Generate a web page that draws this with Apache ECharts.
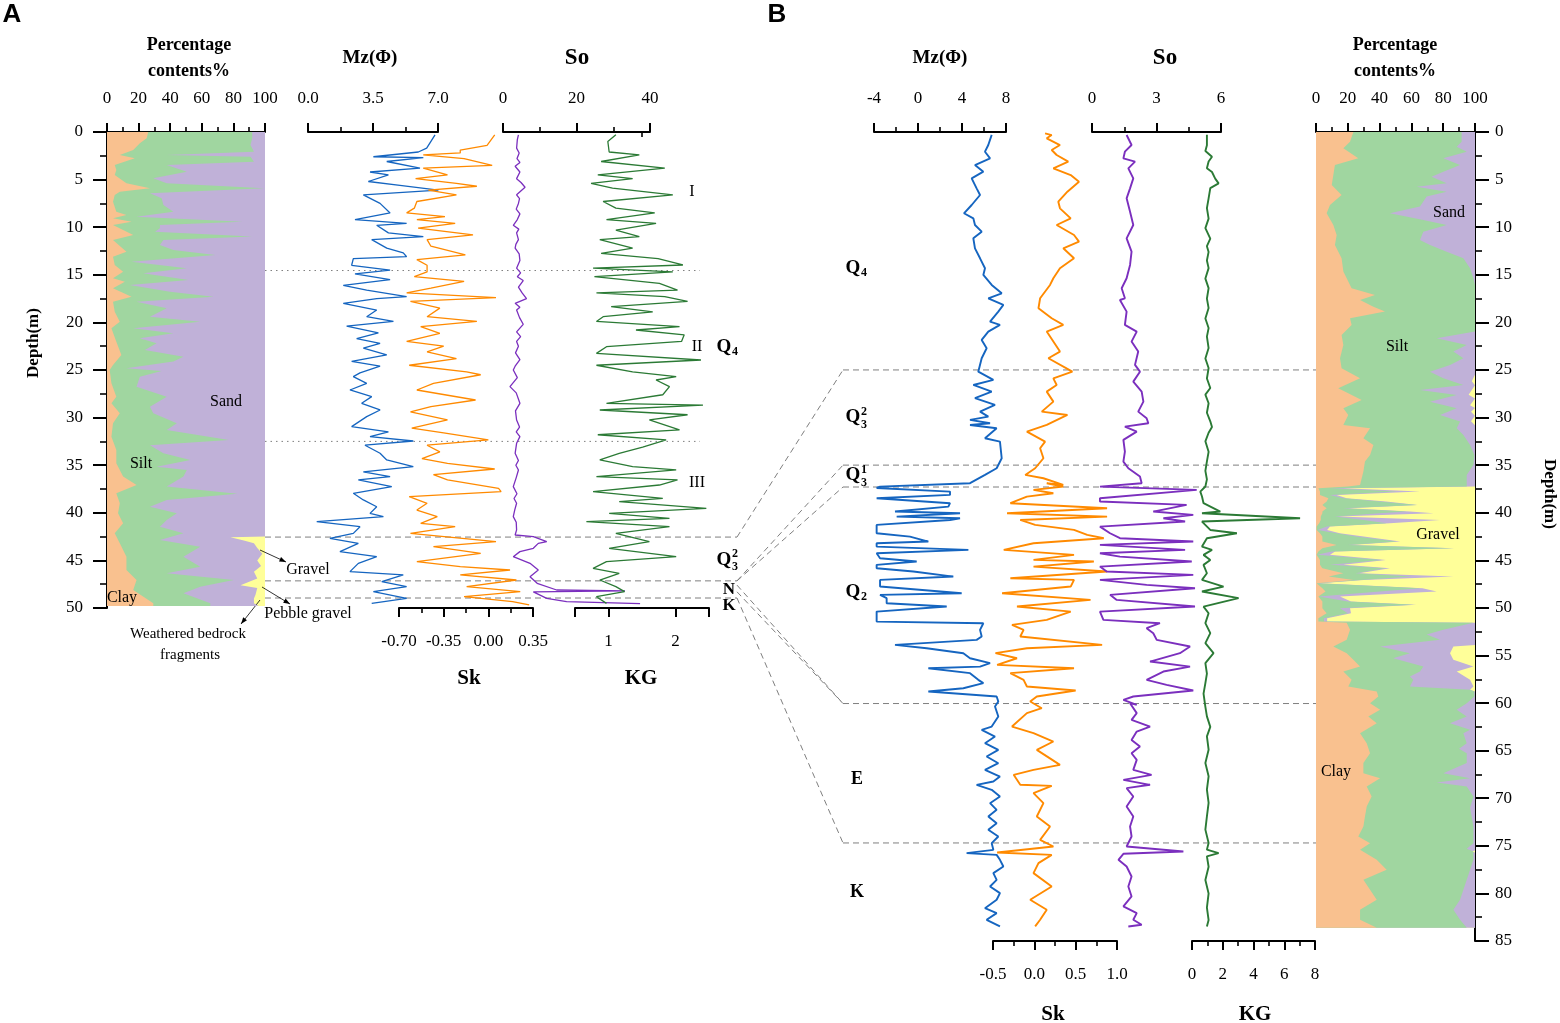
<!DOCTYPE html>
<html><head><meta charset="utf-8">
<script src="https://cdn.jsdelivr.net/npm/echarts@6/dist/echarts.min.js"></script>
<style>html,body{margin:0;padding:0;background:#fff}#c{width:1560px;height:1023px}</style>
</head><body><div id="c"></div>
<script>
// ===== DATA (value, depth m) =====
// Panel A curves
const mzA = [[6.84,0.3],[6.39,1.7],[5.94,2.1],[3.52,2.6],[6.21,2.7],[4.24,3.1],[6.03,3.8],[3.34,4.2],[4.33,4.5],[3.25,5.2],[4.95,5.6],[7.02,6.1],[2.98,6.6],[3.88,7.5],[4.42,8.5],[2.53,9.2],[5.31,9.6],[3.7,9.8],[4.33,10.6],[6.21,11.0],[3.43,11.3],[4.24,12.2],[5.13,12.7],[5.31,13.1],[2.44,13.3],[2.35,14.0],[4.42,14.5],[2.53,14.9],[4.42,15.5],[1.9,16.1],[3.16,16.6],[5.31,17.3],[3.7,17.5],[1.9,18.0],[3.7,18.7],[3.16,19.4],[4.6,19.9],[2.08,20.4],[3.79,21.1],[2.62,21.7],[3.88,22.2],[2.98,22.7],[4.24,23.4],[2.35,24.1],[3.88,24.6],[2.8,25.3],[2.44,25.7],[3.16,26.4],[2.26,27.1],[3.43,27.8],[2.89,28.5],[3.88,29.2],[3.16,29.9],[2.35,30.95],[4.33,31.5],[3.34,32.0],[5.67,32.46],[3.07,32.9],[3.88,33.75],[4.24,34.45],[5.67,35.15],[2.98,35.7],[4.42,36.2],[2.71,36.55],[4.51,37.25],[2.44,37.95],[2.98,38.65],[3.7,39.36],[3.34,40.06],[4.06,40.41],[0.47,40.93],[2.8,41.46],[2.44,42.16],[1.18,42.68],[2.71,43.21],[1.72,44.08],[3.7,44.61],[2.71,45.31],[2.26,46.18],[5.13,46.53],[3.97,47.23],[5.31,47.76],[3.52,48.28],[5.31,48.98],[3.43,49.51]];
const skA = [[0.05,0.3],[-0.01,1.4],[-0.22,1.9],[-0.22,2.2],[-0.51,2.4],[-0.19,2.8],[0.03,3.5],[-0.51,3.8],[-0.32,4.5],[-0.57,4.9],[-0.25,5.4],[-0.09,5.7],[-0.47,6.1],[-0.25,6.6],[-0.56,7.3],[-0.58,8.0],[-0.64,8.5],[-0.34,8.9],[-0.56,9.2],[-0.26,9.6],[-0.55,10.1],[-0.12,10.8],[-0.48,11.3],[-0.45,12.0],[-0.18,12.9],[-0.56,13.4],[-0.48,14.0],[-0.48,14.7],[-0.58,15.2],[-0.19,15.7],[-0.45,16.4],[-0.64,16.9],[0.06,17.4],[-0.61,17.8],[-0.38,18.5],[-0.48,19.4],[-0.09,19.9],[-0.53,20.45],[-0.38,21.15],[-0.64,22.0],[-0.35,22.5],[-0.48,23.1],[-0.25,23.8],[-0.62,24.5],[-0.17,25.2],[-0.06,25.5],[-0.43,26.4],[-0.56,27.1],[-0.10,28.15],[-0.45,28.85],[-0.61,29.4],[-0.32,30.25],[-0.60,31.1],[-0.35,31.6],[0.00,32.35],[-0.48,32.9],[-0.38,33.6],[-0.52,34.3],[-0.32,34.8],[0.05,35.4],[-0.43,36.0],[-0.32,36.55],[0.08,37.43],[0.10,37.78],[-0.62,38.3],[-0.48,39.0],[-0.56,39.71],[-0.40,40.41],[-0.53,41.1],[-0.26,41.46],[-0.61,42.16],[0.06,43.03],[-0.43,43.56],[-0.06,44.26],[-0.56,45.13],[-0.22,45.66],[0.17,46.01],[-0.22,46.53],[0.22,47.06],[-0.17,47.76],[0.25,48.28],[-0.19,48.81],[0.19,49.33],[0.32,49.68]];
const soA = [[4.2,0.3],[3.9,0.8],[3.7,1.7],[4.4,2.2],[3.8,2.8],[4.6,3.2],[3.3,3.6],[4.6,4.2],[3.7,4.9],[4.9,5.3],[6.0,5.8],[3.7,6.6],[4.5,7.0],[4.2,7.5],[3.6,8.1],[4.6,8.6],[3.9,9.2],[2.8,9.8],[4.3,10.2],[3.7,10.6],[4.2,11.3],[3.5,11.8],[3.3,12.2],[4.4,12.8],[4.6,13.5],[3.7,14.3],[4.8,14.8],[3.9,15.2],[5.5,15.6],[4.2,16.3],[5.2,16.9],[6.4,17.5],[3.3,18.0],[4.6,18.4],[3.7,18.7],[4.5,19.5],[5.5,20.2],[3.7,21.0],[4.8,21.5],[3.7,22.0],[4.2,22.5],[3.4,23.2],[4.6,23.9],[3.3,24.6],[2.8,25.0],[3.9,25.8],[1.9,26.75],[3.6,27.4],[4.6,28.5],[3.4,29.3],[3.7,30.25],[4.5,31.0],[3.6,31.5],[4.6,32.0],[3.7,32.7],[3.3,33.75],[4.2,34.5],[3.5,35.0],[4.2,35.5],[3.6,36.3],[2.8,37.25],[3.8,38.0],[3.0,38.5],[3.7,39.0],[3.2,39.7],[2.8,40.4],[3.6,41.0],[3.7,41.8],[3.3,42.33],[8.25,42.51],[11.9,43.03],[9.6,43.21],[8.25,43.73],[4.6,44.08],[2.8,44.61],[7.35,45.31],[9.6,46.01],[7.35,46.71],[9.3,47.41],[14.6,48.11],[33.2,48.2],[8.25,48.3],[11.9,48.98],[17.3,49.33],[37.3,49.55]];
const kgA = [[1.11,0.3],[0.99,1.0],[1.01,2.1],[1.46,2.4],[0.89,3.1],[1.84,3.8],[0.84,4.5],[1.36,4.9],[0.74,5.4],[1.06,5.9],[1.96,6.6],[0.92,7.3],[1.11,8.0],[1.69,8.5],[0.97,9.2],[1.71,9.6],[1.11,10.3],[1.46,11.0],[0.87,11.3],[1.36,12.2],[0.89,12.75],[1.74,13.3],[2.11,13.97],[0.77,14.3],[1.96,14.7],[0.79,15.2],[1.76,15.9],[2.03,16.6],[0.82,16.9],[1.84,17.3],[2.18,17.8],[1.04,18.35],[1.66,18.9],[0.92,19.4],[0.82,19.9],[2.06,20.45],[1.41,20.8],[2.13,21.3],[2.09,22.0],[0.97,22.55],[0.82,23.25],[2.38,23.95],[0.82,24.5],[1.36,25.2],[2.01,25.7],[1.71,26.05],[1.91,26.75],[1.81,27.6],[0.97,28.5],[2.41,28.68],[0.87,29.2],[2.18,29.7],[1.61,30.25],[2.06,31.3],[0.84,31.8],[1.86,32.35],[1.51,33.1],[1.16,33.75],[0.87,34.45],[1.36,35.15],[2.01,35.5],[0.82,36.2],[2.03,36.55],[1.76,37.08],[0.77,37.78],[1.81,38.48],[1.16,38.83],[2.46,39.53],[1.01,40.06],[1.91,40.58],[0.67,40.93],[1.91,41.46],[1.11,42.16],[1.61,43.03],[1.01,43.73],[2.01,44.61],[0.97,45.13],[0.77,45.83],[1.16,46.36],[0.87,47.06],[1.11,47.76],[1.24,48.28],[0.82,48.81],[0.97,49.51]];
// Panel A grain size: cumulative percentages (pct, depth)
const clayA = [[26.1,0],[25.1,0.66],[20.8,1.19],[16.6,1.89],[8.1,2.42],[17.6,2.77],[4.9,3.47],[5.9,3.99],[4.9,4.52],[12.3,5.39],[27.2,5.92],[8.1,6.27],[4.9,6.62],[3.8,7.32],[5.9,8.37],[12.3,8.72],[3.8,9.07],[15.5,9.42],[3.8,9.77],[16.6,10.82],[3.8,11.34],[12.3,12.57],[3.8,13.1],[4.9,13.97],[10.2,14.67],[3.8,15.37],[11.3,15.72],[3.8,16.42],[15.5,17.3],[3.8,17.82],[4.9,18.87],[8.1,19.92],[2.8,20.62],[5.9,22.02],[9.1,23.42],[3.8,24.47],[1.7,25.0],[2.8,26.4],[5.9,27.8],[2.8,28.5],[8.1,29.55],[3.8,30.6],[2.8,32.0],[5.9,33.4],[5.9,34.8],[10.2,36.2],[18.7,37.08],[5.9,37.95],[8.1,39.0],[7.0,40.06],[10.2,41.1],[4.9,42.16],[8.1,43.21],[12.3,44.61],[12.3,46.01],[18.7,47.06],[16.6,48.11],[29.3,49.51],[29.3,49.8]];
const siltTopA = [[91.9,0],[91.9,0.66],[90.8,1.37],[93.0,2.07],[37.8,2.42],[90.8,2.59],[93.0,3.12],[37.8,3.47],[50.5,4.17],[29.3,4.87],[37.8,5.39],[99.4,5.92],[27.2,6.44],[34.6,6.97],[35.7,7.67],[42.0,8.37],[18.7,8.89],[85.6,9.42],[33.5,9.77],[33.5,10.12],[30.4,10.47],[91.9,10.99],[35.7,11.34],[33.5,11.87],[42.0,12.4],[68.6,12.92],[15.5,13.62],[50.5,14.32],[22.9,14.85],[51.6,15.55],[14.4,16.07],[39.9,16.77],[67.5,17.3],[18.7,17.82],[37.8,18.52],[27.2,19.4],[59.0,19.92],[16.6,20.62],[42.0,21.15],[20.8,21.67],[31.4,22.2],[24.0,22.9],[48.4,23.6],[42.0,24.12],[12.3,24.82],[34.6,25.1],[20.8,25.7],[18.7,26.75],[37.8,27.8],[27.2,28.85],[29.3,29.55],[44.2,30.6],[37.8,31.3],[77.1,32.35],[27.2,32.9],[35.7,33.75],[52.7,34.45],[31.4,35.15],[50.5,35.5],[48.4,36.2],[37.8,37.25],[82.4,38.0],[37.8,38.65],[27.2,39.36],[44.2,40.06],[37.8,40.76],[33.5,41.46],[48.4,42.16],[33.5,42.86],[59.0,43.56],[48.4,44.61],[59.0,45.66],[37.8,46.36],[80.3,47.06],[59.0,47.76],[48.4,48.46],[65.4,49.51],[65.4,49.8]];
const sandTopA = [[100,0],[100,42.5],[78.1,42.56],[86.6,42.9],[93.0,43.2],[95.1,43.7],[98.3,44.3],[95.1,45.0],[97.5,45.6],[93.0,46.2],[95.1,46.9],[84.5,47.6],[95.1,47.9],[94.0,48.6],[93.0,49.0],[93.0,49.5],[96,49.8]];
const totalA = [[100,0],[100,49.8]];

// Panel B curves
const mzB = [[6.70,0.3],[6.39,1.37],[6.09,2.07],[6.55,2.77],[5.18,3.47],[5.94,4.17],[4.88,4.87],[5.33,5.92],[5.64,6.62],[4.88,7.67],[4.18,8.54],[5.03,9.07],[5.18,9.77],[5.79,10.47],[5.03,11.17],[5.18,12.22],[5.64,13.27],[6.09,14.32],[5.94,15.02],[6.70,16.07],[7.61,16.95],[6.39,17.47],[7.76,18.17],[7.30,18.87],[6.55,19.92],[7.45,20.27],[6.39,20.97],[5.79,21.85],[6.24,22.72],[5.79,23.77],[5.48,25.18],[6.85,26.05],[5.03,26.58],[6.70,27.28],[5.18,27.97],[7.0,28.68],[5.64,29.38],[6.39,29.9],[4.73,30.25],[6.55,30.6],[4.73,30.78],[7.15,31.12],[6.09,32.18],[7.45,32.53],[7.61,34.28],[7.15,35.33],[6.09,36.03],[4.73,36.9],[-3.45,37.26],[-3.76,37.4],[2.91,37.78],[2.91,38.13],[-3.76,38.48],[2.91,39.0],[2.76,39.36],[-2.09,39.88],[3.82,40.06],[-1.94,40.41],[3.82,40.58],[2.91,40.76],[-3.76,41.28],[-3.76,42.16],[-0.73,42.51],[0.94,43.03],[-3.76,43.21],[-3.76,43.56],[4.58,43.91],[-3.76,44.26],[-3.45,44.78],[-0.12,45.13],[-3.76,45.48],[-3.76,45.83],[-0.42,46.18],[3.21,46.71],[-3.45,47.06],[-3.45,47.76],[3.97,48.46],[-3.45,48.63],[-2.85,48.98],[-2.85,49.51],[2.61,49.86],[-3.76,50.39],[-3.76,51.44],[5.94,51.61],[5.64,52.31],[5.79,53.01],[5.33,53.36],[-2.09,53.89],[0.79,54.24],[4.12,54.76],[4.73,55.29],[6.55,55.81],[5.64,56.17],[0.94,56.34],[4.73,56.86],[5.48,57.56],[5.94,57.91],[4.12,58.44],[0.94,58.79],[7.15,59.31],[7.30,59.84],[7.0,60.36],[7.30,61.42],[6.70,62.47],[5.79,62.82],[7.0,63.52],[6.09,64.22],[7.30,64.92],[6.24,65.62],[7.30,66.32],[6.09,67.02],[7.45,67.72],[6.85,68.24],[5.33,68.59],[6.70,69.12],[7.45,69.82],[6.55,70.52],[7.15,71.22],[6.39,71.92],[7.15,72.62],[6.39,73.32],[7.30,74.02],[6.70,74.72],[6.85,75.42],[4.42,75.77],[7.15,75.95],[7.45,76.47],[7.76,77.17],[6.85,77.87],[7.15,78.57],[6.55,79.27],[7.45,79.97],[7.15,80.67],[6.09,81.55],[7.15,82.07],[6.24,82.77],[7.45,83.47]];
const skB = [[0.13,0.14],[0.21,0.32],[0.15,0.66],[0.31,1.37],[0.21,1.89],[0.27,2.42],[0.41,3.12],[0.23,3.82],[0.44,4.52],[0.54,5.22],[0.40,6.27],[0.29,7.32],[0.31,8.02],[0.44,9.07],[0.27,9.77],[0.48,10.82],[0.54,11.52],[0.35,12.22],[0.48,13.27],[0.31,14.32],[0.23,15.37],[0.19,16.07],[0.07,17.47],[0.05,18.52],[0.21,19.57],[0.35,20.27],[0.15,20.97],[0.23,22.02],[0.31,23.07],[0.17,23.77],[0.46,25.18],[0.23,25.88],[0.27,26.58],[0.15,27.28],[0.23,28.33],[0.09,29.38],[0.40,29.73],[0.15,30.78],[-0.09,31.48],[0.13,32.53],[0.07,33.23],[0.11,34.28],[0.01,35.33],[-0.11,36.03],[0.11,36.38],[0.35,37.08],[0.15,36.9],[0.35,37.25],[-0.01,37.6],[0.23,37.95],[-0.09,38.31],[-0.29,39.0],[0.88,39.53],[-0.33,40.06],[0.88,40.41],[-0.17,40.76],[0.01,41.28],[0.48,41.81],[0.64,42.33],[0.84,42.68],[-0.01,43.21],[-0.37,43.91],[0.48,44.43],[-0.01,44.96],[0.72,45.13],[-0.01,45.66],[0.88,46.18],[-0.29,46.88],[0.48,47.06],[0.44,47.76],[-0.39,48.46],[0.68,49.16],[-0.21,49.86],[0.44,50.39],[0.15,51.26],[-0.27,51.79],[-0.13,52.31],[-0.17,53.01],[0.82,53.89],[-0.09,54.24],[-0.47,54.76],[-0.21,55.29],[-0.45,55.99],[0.48,56.34],[-0.29,56.86],[-0.13,57.56],[-0.09,58.26],[0.50,58.68],[0.03,59.31],[-0.05,59.84],[0.09,60.54],[-0.09,61.06],[-0.27,62.47],[-0.01,63.16],[0.23,64.04],[0.03,64.92],[0.31,66.49],[-0.01,67.02],[-0.25,67.54],[-0.17,68.59],[0.21,68.7],[-0.01,69.47],[0.11,70.52],[0.03,71.92],[0.19,72.97],[0.07,74.37],[0.23,75.07],[-0.45,75.7],[0.21,75.95],[0.05,76.82],[-0.01,77.87],[0.21,79.27],[-0.05,80.67],[0.15,81.72],[0.07,82.77],[0.01,83.47]];
const soB = [[1.61,0.32],[1.84,1.37],[1.53,2.07],[1.46,2.77],[2.0,3.12],[1.69,3.82],[1.92,4.87],[1.77,5.92],[1.61,6.97],[1.77,8.37],[1.92,9.77],[1.61,11.17],[1.84,12.57],[1.77,13.97],[1.61,15.37],[1.38,16.42],[1.53,17.47],[1.30,17.65],[1.61,18.87],[1.53,20.27],[2.08,20.97],[1.84,22.02],[2.15,23.07],[2.0,24.47],[2.23,25.18],[1.92,26.23],[2.31,27.28],[2.39,28.33],[2.15,29.38],[2.54,30.08],[2.62,30.6],[1.53,30.95],[2.08,31.48],[1.46,32.35],[1.53,33.58],[1.46,34.63],[1.69,35.33],[2.23,36.2],[2.31,36.9],[0.37,37.26],[4.87,37.6],[0.37,38.48],[0.37,38.83],[4.40,39.18],[2.85,39.88],[4.71,40.23],[3.32,40.58],[4.33,40.93],[0.37,41.46],[0.84,42.16],[1.30,42.68],[4.71,43.03],[0.37,43.38],[4.33,43.91],[0.37,44.26],[1.30,44.61],[4.64,45.13],[0.37,45.66],[0.68,46.18],[4.71,46.53],[0.37,47.06],[2.54,47.58],[4.79,47.93],[0.84,48.63],[1.15,49.16],[4.79,49.86],[0.37,50.39],[0.53,51.26],[3.16,51.61],[2.54,52.13],[2.85,52.66],[3.01,53.36],[4.56,54.06],[4.09,54.76],[2.70,55.64],[4.56,56.17],[3.32,56.69],[2.54,57.56],[3.47,58.09],[4.71,58.68],[1.92,59.31],[1.46,59.66],[2.08,60.19],[1.77,60.01],[2.08,61.06],[1.84,61.77],[2.70,62.47],[2.08,62.99],[1.84,63.87],[2.23,64.57],[1.84,65.27],[2.08,65.97],[1.92,67.02],[2.77,67.54],[1.46,68.07],[2.70,68.59],[1.61,68.94],[1.92,69.82],[1.61,70.87],[1.92,71.92],[1.77,72.97],[1.84,74.02],[1.61,75.07],[4.25,75.6],[1.46,75.84],[1.23,76.47],[1.61,77.17],[1.84,78.22],[1.69,79.27],[1.84,80.32],[1.46,81.37],[2.08,82.07],[1.92,82.77],[2.31,83.29],[1.69,83.47]];
const kgB = [[0.97,0.3],[0.97,1.4],[0.87,2.0],[1.30,2.6],[1.08,3.1],[0.97,3.8],[1.30,4.2],[1.51,4.9],[1.73,5.4],[1.19,5.9],[1.08,6.97],[0.97,8.0],[1.08,9.1],[0.87,10.1],[1.19,11.2],[0.97,12.0],[1.08,12.6],[0.97,13.5],[1.08,14.3],[0.87,15.4],[1.08,16.4],[0.97,17.5],[1.08,18.5],[0.87,19.6],[1.08,20.6],[0.97,21.5],[1.08,22.7],[0.87,23.8],[1.08,24.8],[0.97,25.9],[1.19,26.9],[0.87,27.6],[1.08,28.5],[0.97,29.5],[1.19,30.4],[1.30,31.0],[1.08,31.6],[0.87,32.5],[1.08,33.6],[0.97,34.6],[0.87,35.6],[0.97,36.5],[0.87,37.25],[0.54,37.78],[0.65,38.3],[0.75,39.0],[1.84,39.88],[0.65,40.06],[7.03,40.58],[0.65,40.93],[1.19,41.81],[2.92,42.16],[0.97,42.68],[0.65,43.56],[1.30,43.91],[0.75,44.43],[1.19,44.96],[0.75,45.48],[0.97,46.36],[0.65,47.06],[2.05,47.76],[0.65,48.28],[3.03,48.98],[0.75,49.86],[1.08,50.56],[0.87,51.6],[1.19,52.66],[0.87,53.7],[1.40,54.76],[0.87,55.8],[0.97,56.9],[0.87,57.9],[0.75,59.0],[0.87,60.4],[0.97,61.4],[1.19,62.5],[0.97,63.5],[1.08,64.9],[0.87,66.3],[1.08,67.7],[0.97,69.1],[1.08,70.5],[0.97,71.9],[0.87,73.3],[1.08,74.7],[0.97,75.4],[1.73,75.77],[0.97,76.1],[1.08,77.2],[0.87,78.6],[1.08,80.0],[0.97,81.5],[1.08,82.8],[0.97,83.47]];
// Panel B grain size: cumulative percentages (pct, depth)
const clayB = [[23.5,0],[21.4,1.02],[17.2,1.71],[26.6,2.77],[11.9,3.47],[10.9,4.52],[9.9,5.57],[16.1,6.62],[8.8,7.67],[6.7,8.54],[10.9,9.77],[13.0,10.82],[11.9,11.87],[16.1,13.27],[17.2,14.67],[20.3,15.72],[22.4,16.42],[37.1,17.12],[27.7,17.65],[36.1,18.35],[43.4,18.87],[21.4,19.57],[22.4,20.27],[16.1,21.32],[17.2,22.37],[15.1,23.77],[16.1,24.82],[27.7,25.88],[14.0,26.93],[28.7,28.15],[17.2,29.03],[20.3,29.73],[17.2,30.78],[34.0,31.12],[29.8,32.18],[36.1,32.88],[34.0,33.93],[30.8,34.63],[29.8,35.68],[27.7,37.08],[20,37.25],[1.5,37.43],[2.5,37.78],[2.5,38.13],[7.8,38.48],[6.7,38.83],[4,39.18],[6.7,39.53],[4,39.88],[4,40.06],[3,40.41],[3,40.76],[2,41.11],[0.4,41.46],[0.4,41.81],[2.5,42.16],[4,42.51],[4,43.03],[13,43.38],[4,43.73],[1.5,44.08],[0.4,44.43],[2.5,44.96],[2.5,45.48],[4,45.83],[17.2,46.36],[8,46.71],[23.5,47.06],[0.4,47.41],[4,47.93],[6,48.28],[1.5,48.8],[4,49.33],[4,49.68],[4,50.03],[6.7,50.56],[1.5,51.08],[1.5,51.44],[19.3,51.55],[21.4,52.31],[19.3,53.36],[10.9,54.06],[19.3,54.76],[23.5,55.46],[27.7,56.17],[17.2,56.69],[22.4,57.56],[20.3,58.26],[38.2,58.79],[39.2,59.31],[34.0,60.01],[40.3,60.71],[32.9,61.42],[38.2,62.12],[27.7,63.16],[31.9,64.22],[34.0,65.27],[29.8,66.31],[29.8,67.37],[40.3,67.89],[31.9,68.77],[35.0,69.82],[31.9,70.87],[30.8,71.92],[29.8,72.97],[26.6,74.02],[34.0,74.72],[27.7,75.42],[38.2,76.47],[44.4,77.52],[29.8,78.57],[34.0,79.62],[38.2,80.67],[27.7,81.72],[27.7,82.77],[38.2,83.6]];
const siltTopB = [[91.6,0],[91.6,1.02],[88.5,1.54],[94.8,2.07],[80.1,2.77],[90.6,3.47],[80.1,4.17],[72.7,4.69],[82.2,5.39],[63.3,5.74],[82.2,6.27],[69.6,6.79],[65.4,7.84],[46.5,8.54],[67.5,9.24],[82.2,9.77],[67.5,10.47],[65.4,11.34],[71.7,11.87],[82.2,12.57],[92.7,13.27],[96.9,14.32],[99.0,15.37],[100,16.07],[100,20.97],[75.9,21.67],[94.8,22.37],[86.4,23.07],[92.7,23.77],[84.3,24.47],[71.7,25.18],[80.1,25.88],[92.7,26.58],[65.4,27.1],[88.5,27.63],[71.7,28.33],[88.5,29.03],[78.0,29.73],[90.6,30.43],[88.5,31.12],[92.7,31.83],[96.9,32.88],[99.6,33.93],[99.0,34.98],[94.8,36.03],[94.8,37.08],[94.8,37.25],[8.8,37.43],[50.7,37.78],[8.8,38.13],[17.2,38.48],[40,38.83],[63.3,39.18],[17.2,39.53],[57,39.88],[40,40.06],[12,40.41],[30,40.76],[44.4,41.11],[6.7,41.46],[1,41.81],[13,42.16],[25,42.51],[50.7,43.03],[20,43.38],[86.4,43.73],[10,44.08],[0.6,44.43],[41.3,44.96],[8.8,45.48],[43.4,45.83],[25,46.36],[60,46.71],[28,47.06],[0.6,47.41],[65.4,47.93],[40,48.28],[1.8,48.8],[20,49.33],[61.2,49.68],[15,50.03],[20,50.56],[5,51.08],[5,51.44],[99,51.55],[80.1,52.31],[69.6,52.8],[78,53.36],[40.3,54.06],[59.1,54.76],[48.6,55.29],[67.5,56.17],[65.4,56.69],[59.1,57.2],[61.2,57.56],[59.1,58.26],[96.9,58.61],[99.6,58.79],[99.6,59.31],[94.8,60.01],[88.5,60.71],[94.8,61.42],[84.3,62.12],[96.9,62.8],[92.7,63.16],[94.8,64.22],[90,64.8],[94.8,65.27],[94.8,66.31],[80.1,67.37],[96.9,67.89],[75.9,68.35],[94.8,68.77],[99.0,69.82],[96.9,71.0],[99.0,72.97],[99.0,74.72],[94.8,75.3],[99,75.6],[99.0,76.47],[96.9,77.52],[94.8,78.57],[92.7,79.62],[90.6,80.67],[86.4,81.72],[90.6,82.77],[94.8,83.6]];
const sandTopB = [[100,0],[100,25.5],[98,26.2],[100,26.6],[96,27.6],[100,28.0],[96.9,28.7],[100,29.0],[97.5,29.4],[100,29.8],[97.5,30.4],[100,30.8],[100,37.25],[17.2,37.43],[65.4,37.78],[13,38.13],[19.3,38.48],[44,38.83],[64,39.18],[20.3,39.53],[59,39.88],[74,40.06],[14,40.41],[78,40.76],[46.5,41.11],[8.8,41.46],[7,41.81],[15,42.16],[30,42.51],[53,43.03],[22,43.38],[87,43.73],[12,44.08],[8.8,44.43],[44,44.96],[17.2,45.48],[46.5,45.83],[27,46.36],[86.4,46.71],[30,47.06],[2.5,47.41],[67,47.93],[75.9,48.28],[15.1,48.8],[22,49.33],[63,49.68],[21.4,50.03],[22,50.56],[7,51.08],[7,51.44],[100,51.55],[100,53.9],[86.4,54.06],[84.3,54.76],[86.4,55.46],[99,56.17],[88.5,56.69],[96.9,57.56],[99,58.26],[96.9,58.61],[100,58.79],[100,75.5],[98,75.6],[100,75.7],[100,83.6]];
const totalB = [[100,0],[100,83.6]];

// Stratigraphic boundaries (depth, m)
const dottedA = [14.55, 32.5];
const boundA = [42.55, 47.15, 48.95];
const boundB = [25.0, 35.0, 37.3, 60.05, 74.7];
const linksAB = [[42.55,25.0],[47.15,35.0],[47.15,37.3],[47.6,60.05],[48.3,60.05],[48.95,74.7]];

// ===== STYLE =====
const SERIF = '"Liberation Serif","Times New Roman",serif';
const C = {clay:'#F9C18F', silt:'#A0D6A0', sand:'#C0B1D8', gravel:'#FFFF99',
  mz:'#1565C0', sk:'#FF8A00', so:'#7B2FBE', kg:'#2B7A35'};

const chart = echarts.init(document.getElementById('c'), null, {renderer:'canvas'});

const grids = [
  {left:107, top:132, width:158, height:476}, // 0 pct A
  {left:308, top:132, width:130, height:476}, // 1 Mz A
  {left:399, top:132, width:134, height:476}, // 2 Sk A
  {left:503, top:132, width:147, height:476}, // 3 So A
  {left:575, top:132, width:134, height:476}, // 4 KG A
  {left:874, top:132, width:132, height:809}, // 5 Mz B
  {left:993, top:132, width:124, height:809}, // 6 Sk B
  {left:1092, top:132, width:129, height:809},// 7 So B
  {left:1192, top:132, width:123, height:809},// 8 KG B
  {left:1316, top:132, width:159, height:809} // 9 pct B
];

function xAx(gi, min, max, interval, pos, fmt, extra) {
  const a = {
    type:'value', gridIndex:gi, position:pos, min, max, interval,
    axisLine:{show:true, onZero:false, lineStyle:{color:'#000', width:2}},
    axisTick:{show:true, length:9, lineStyle:{color:'#000', width:2}},
    minorTick:{show:true, splitNumber:2, length:5, lineStyle:{color:'#000', width:1.6}},
    splitLine:{show:false}, minorSplitLine:{show:false},
    axisLabel:{show:true, margin:25, color:'#000', fontFamily:SERIF, fontSize:17, formatter:fmt}
  };
  return Object.assign(a, extra || {});
}
const fix = n => v => (Math.abs(v) < 1e-9 ? 0 : v).toFixed(n);
const xAxes = [
  xAx(0, 0, 100, 20, 'top', fix(0)),
  xAx(1, 0, 7, 3.5, 'top', fix(1)),
  xAx(2, -0.7, 0.35, 0.35, 'bottom', fix(2)),
  xAx(3, 0, 40, 20, 'top', fix(0)),
  xAx(4, 0.5, 2.5, 0.5, 'bottom', fix(0), {
    minorTick:{show:false},
    axisTick:{show:true, length:9, customValues:[0.5,1,2,2.5], lineStyle:{color:'#000', width:2}},
    axisLabel:{show:true, margin:25, color:'#000', fontFamily:SERIF, fontSize:17, customValues:[1,2], formatter:fix(0)}
  }),
  xAx(5, -4, 8, 4, 'top', fix(0)),
  xAx(6, -0.5, 1.0, 0.5, 'bottom', fix(1)),
  xAx(7, 0, 6, 3, 'top', fix(0)),
  xAx(8, 0, 8, 2, 'bottom', fix(0)),
  xAx(9, 0, 100, 20, 'top', fix(0)),
  // extra short tick for KG A at 1.5
  {type:'value', gridIndex:4, position:'bottom', min:0.5, max:2.5, interval:0.5,
   axisLine:{show:false}, splitLine:{show:false},
   axisTick:{show:true, length:5, customValues:[1.5], lineStyle:{color:'#000', width:1.6}},
   axisLabel:{show:false}}
];
function yAx(gi, max, show, pos) {
  return {
    type:'value', gridIndex:gi, min:0, max, interval:5, inverse:true, show, position:pos,
    axisLine:{show:true, onZero:false, lineStyle:{color:'#000', width:2}},
    axisTick:{show:true, length:14, lineStyle:{color:'#000', width:2}},
    minorTick:{show:true, splitNumber:2, length:7, lineStyle:{color:'#000', width:1.6}},
    splitLine:{show:false}, minorSplitLine:{show:false},
    axisLabel:{show:true, margin: pos === 'left' ? 24 : 20, color:'#000', fontFamily:SERIF, fontSize:17}
  };
}
const yAxes = [];
for (let i = 0; i < 10; i++) {
  const isA = i < 5;
  yAxes.push(yAx(i, isA ? 50 : 85, i === 0 || i === 9, i === 9 ? 'right' : 'left'));
}

function layer(name, bound, color, gi, z) {
  return {
    type:'custom', name, xAxisIndex:gi, yAxisIndex:gi, z, silent:true, animation:false,
    data: bound, encode:{x:0, y:1}, clip:true,
    renderItem(params, api) {
      if (params.dataIndex !== 0) return null;
      const pts = [api.coord([0, bound[0][1]])];
      for (const p of bound) pts.push(api.coord(p));
      pts.push(api.coord([0, bound[bound.length - 1][1]]));
      return {type:'polygon', shape:{points:pts}, style:{fill:color, stroke:null}};
    }
  };
}
function curve(name, data, color, gi, w) {
  return {type:'line', name, data, xAxisIndex:gi, yAxisIndex:gi, symbol:'none', showSymbol:false,
    clip:false, animation:false, lineStyle:{color, width:w}, z:3};
}

const series = [
  layer('GravelA', totalA, C.gravel, 0, 1),
  layer('SandA', sandTopA, C.sand, 0, 2),
  layer('SiltA', siltTopA, C.silt, 0, 3),
  layer('ClayA', clayA, C.clay, 0, 4),
  curve('MzA', mzA, C.mz, 1, 1.3),
  curve('SkA', skA, C.sk, 2, 1.3),
  curve('SoA', soA, C.so, 3, 1.3),
  curve('KGA', kgA, C.kg, 4, 1.3),
  layer('GravelB', totalB, C.gravel, 9, 1),
  layer('SandB', sandTopB, C.sand, 9, 2),
  layer('SiltB', siltTopB, C.silt, 9, 3),
  layer('ClayB', clayB, C.clay, 9, 4),
  curve('MzB', mzB, C.mz, 5, 1.9),
  curve('SkB', skB, C.sk, 6, 1.9),
  curve('SoB', soB, C.so, 7, 1.9),
  curve('KGB', kgB, C.kg, 8, 1.9)
];

chart.setOption({
  animation:false, backgroundColor:'#fff',
  grid: grids, xAxis: xAxes, yAxis: yAxes, series
});

// ===== overlay annotations positioned through axis scales =====
const yA = d => chart.convertToPixel({yAxisIndex:0}, d);
const yB = d => chart.convertToPixel({yAxisIndex:9}, d);
const xA100 = chart.convertToPixel({xAxisIndex:0}, 100);
const xB0 = chart.convertToPixel({xAxisIndex:9}, 0);
const G = [];
function ln(x1, y1, x2, y2, dash, color, w) {
  G.push({type:'line', z:1, silent:true, shape:{x1, y1, x2, y2},
    style:{stroke:color || '#7f7f7f', lineWidth:w || 1, lineDash:dash}});
}
function tx(text, x, y, font, opts) {
  G.push(Object.assign({type:'text', z:20, silent:true, x, y,
    style:{text, font, fill:'#000', align:'center', verticalAlign:'middle', textAlign:'center', textVerticalAlign:'middle'}}, opts || {}));
}
function arrow(x1, y1, x2, y2) {
  ln(x1, y1, x2, y2, null, '#000', 0.8);
  const a = Math.atan2(y2 - y1, x2 - x1), L = 7, s = 0.35;
  G.push({type:'polygon', z:20, silent:true, shape:{points:[[x2, y2],
    [x2 - L * Math.cos(a - s), y2 - L * Math.sin(a - s)],
    [x2 - L * Math.cos(a + s), y2 - L * Math.sin(a + s)]]}, style:{fill:'#000'}});
}
const B18 = 'bold 18px ' + SERIF, B17 = 'bold 17px ' + SERIF, N16 = '16px ' + SERIF;
function qLab(x, y, sub, sup) {
  tx('Q', x, y, 'bold 19px ' + SERIF);
  tx(sub, x + 11, y + (sup ? 7 : 5), 'bold 12px ' + SERIF);
  if (sup) tx(sup, x + 11, y - 6, 'bold 12px ' + SERIF);
}

dottedA.forEach(d => ln(xA100, yA(d), 700, yA(d), [1.5, 4]));
boundA.forEach(d => ln(xA100, yA(d), 737, yA(d), [6, 4]));
boundB.forEach(d => ln(843, yB(d), xB0, yB(d), [6, 4]));
linksAB.forEach(([a, b]) => ln(737, yA(a), 843, yB(b), [6, 4]));

// panel letters
tx('A', 12, 15, 'bold 26px "Liberation Sans",Arial,sans-serif');
tx('B', 777, 15, 'bold 26px "Liberation Sans",Arial,sans-serif');
// titles A
tx('Percentage', 189, 45, B18); tx('contents%', 189, 71, B18);
tx('Mz(Φ)', 370, 58, 'bold 19px ' + SERIF);
tx('So', 577, 58, 'bold 23px ' + SERIF);
tx('Sk', 469, 679, 'bold 21px ' + SERIF);
tx('KG', 641, 679, 'bold 21px ' + SERIF);
tx('Depth(m)', 34, 343, B17, {rotation: Math.PI / 2});
// titles B
tx('Percentage', 1395, 45, B18); tx('contents%', 1395, 71, B18);
tx('Mz(Φ)', 940, 58, 'bold 19px ' + SERIF);
tx('So', 1165, 58, 'bold 23px ' + SERIF);
tx('Sk', 1053, 1015, 'bold 21px ' + SERIF);
tx('KG', 1255, 1015, 'bold 21px ' + SERIF);
tx('Depth(m)', 1549, 494, B17, {rotation: -Math.PI / 2});
// grain labels A
tx('Sand', 226, 402, N16); tx('Silt', 141, 464, N16); tx('Clay', 122, 598, N16);
tx('Gravel', 308, 570, N16); tx('Pebble gravel', 308, 614, N16);
tx('Weathered bedrock', 188, 634, '15px ' + SERIF); tx('fragments', 190, 655, '15px ' + SERIF);
arrow(260, 550, 286, 562); arrow(262, 587, 290, 604); arrow(260, 600, 241, 624);
// grain labels B
tx('Sand', 1449, 213, N16); tx('Silt', 1397, 347, N16); tx('Gravel', 1438, 535, N16); tx('Clay', 1336, 772, N16);
// unit labels A
tx('I', 692, yA(6.3), N16); tx('II', 697, yA(22.6), N16); tx('III', 697, yA(36.9), N16);
qLab(724, yA(22.6), '4');
qLab(724, yA(45.0), '3', '2');
tx('N', 729, yA(48.1), B17); tx('K', 729, yA(49.8), B17);
// unit labels B
qLab(853, yB(14.3), '4');
qLab(853, yB(30.0), '3', '2');
qLab(853, yB(36.1), '3', '1');
qLab(853, yB(48.3), '2');
tx('E', 857, yB(68.0), B18); tx('K', 857, yB(79.9), B18);

chart.setOption({graphic: {elements: G}});
</script></body></html>
